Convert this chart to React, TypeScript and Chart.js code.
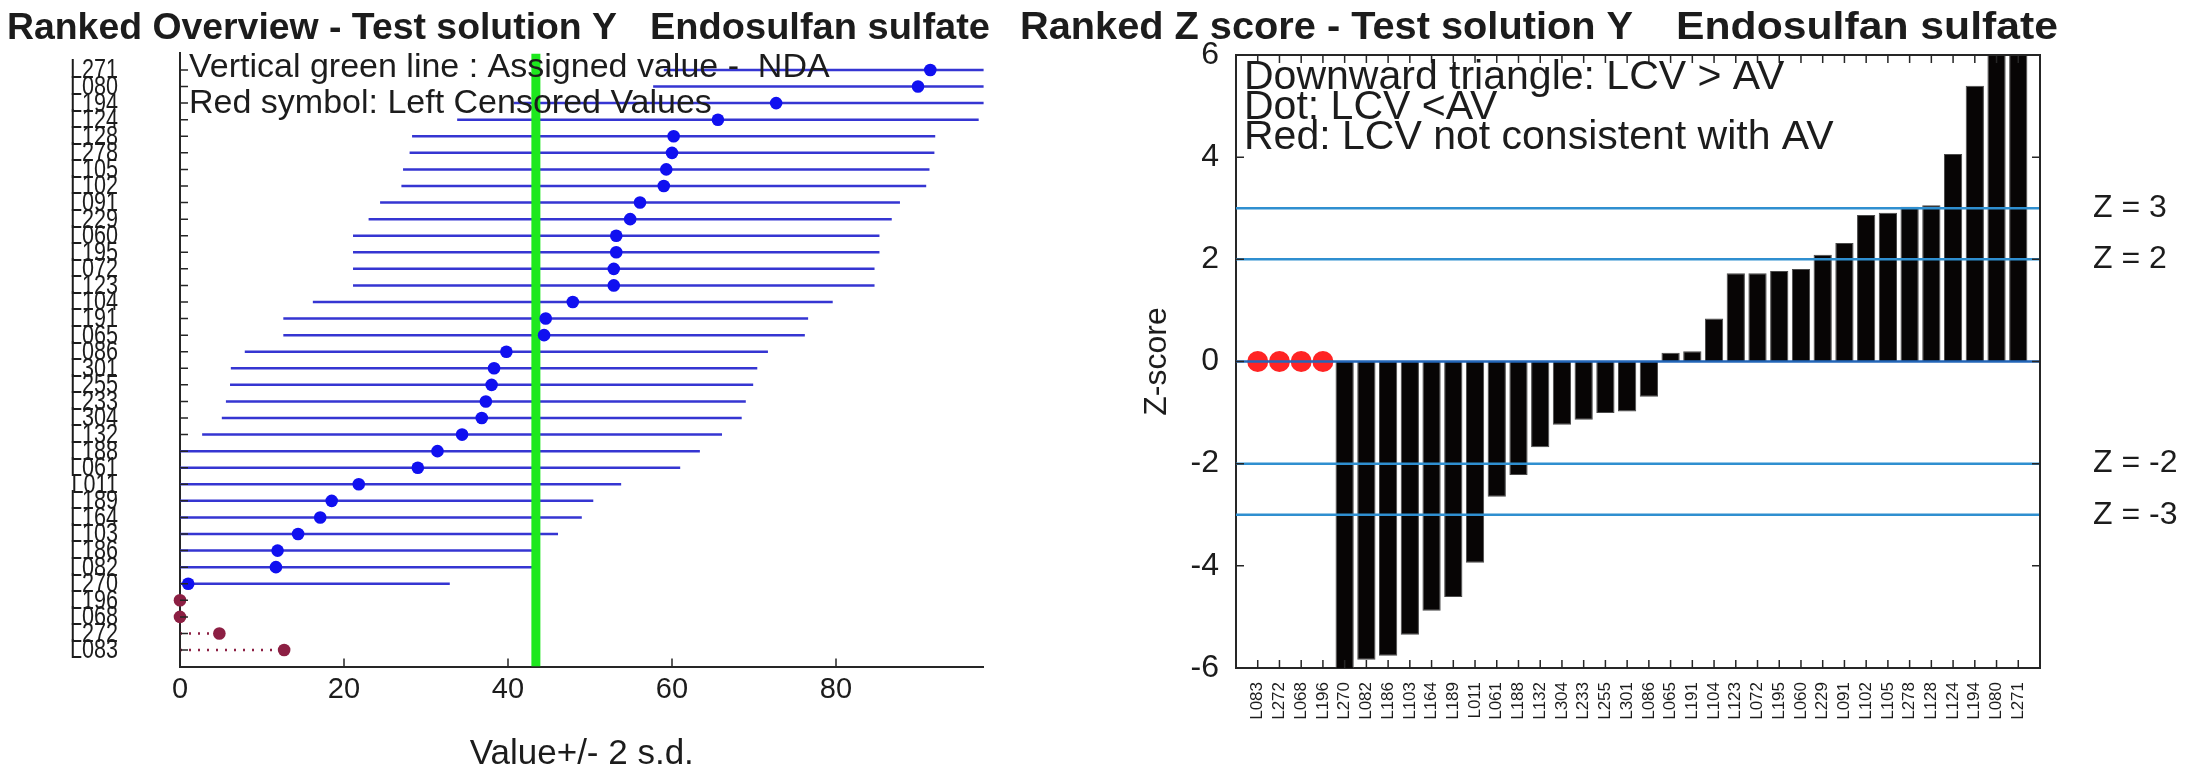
import React, { useEffect, useRef } from 'react';
import { Chart, registerables } from 'chart.js';

Chart.register(...registerables);

// ---------------- Left panel : ranked overview (top -> bottom) ----------------
const overviewLabs = [
  'L271', 'L080', 'L194', 'L124', 'L128', 'L278', 'L105', 'L102', 'L091', 'L229',
  'L060', 'L195', 'L072', 'L123', 'L104', 'L191', 'L065', 'L086', 'L301', 'L255',
  'L233', 'L304', 'L132', 'L188', 'L061', 'L011', 'L189', 'L164', 'L103', 'L186',
  'L082', 'L270', 'L196', 'L068', 'L272', 'L083',
];
const overviewValues = [
  91.5, 90.0, 72.7, 65.6, 60.2, 60.0, 59.3, 59.0, 56.1, 54.9,
  53.2, 53.2, 52.9, 52.9, 47.9, 44.6, 44.4, 39.8, 38.3, 38.0,
  37.3, 36.8, 34.4, 31.4, 29.0, 21.8, 18.5, 17.1, 14.4, 11.9,
  11.7, 1.0, 0, 0, 4.8, 12.7,
];
// 2 s.d. half width of each horizontal line (null: left censored value)
const overviewTwoSd = [
  32.5, 32.3, 32.0, 31.8, 31.9, 32.0, 32.1, 32.0, 31.7, 31.9,
  32.1, 32.1, 31.8, 31.8, 31.7, 32.0, 31.8, 31.9, 32.1, 31.9,
  31.7, 31.7, 31.7, 32.0, 32.0, 32.0, 31.9, 31.9, 31.7, 31.9,
  31.9, 31.9, null, null, null, null,
];
const overviewCensored = [
  false, false, false, false, false, false, false, false, false, false,
  false, false, false, false, false, false, false, false, false, false,
  false, false, false, false, false, false, false, false, false, false,
  false, false, true, true, true, true,
];
const assignedValue = 43.4;
const overviewXTicks = [0, 20, 40, 60, 80];
const overviewXMax = 98;

// ---------------- Right panel : ranked z scores (left -> right) ----------------
const zLabs = [
  'L083', 'L272', 'L068', 'L196', 'L270', 'L082', 'L186', 'L103', 'L164', 'L189',
  'L011', 'L061', 'L188', 'L132', 'L304', 'L233', 'L255', 'L301', 'L086', 'L065',
  'L191', 'L104', 'L123', 'L072', 'L195', 'L060', 'L229', 'L091', 'L102', 'L105',
  'L278', 'L128', 'L124', 'L194', 'L080', 'L271',
];
// null = left censored value (drawn as red dot at 0)
const zScores = [
  null, null, null, null, -7.8, -5.84, -5.76, -5.35, -4.88, -4.61,
  -3.94, -2.65, -2.22, -1.68, -1.24, -1.14, -1.01, -0.98, -0.69, 0.17,
  0.2, 0.84, 1.73, 1.73, 1.77, 1.81, 2.09, 2.32, 2.87, 2.91,
  3.03, 3.06, 4.06, 5.4, 8.6, 8.9,
];
const zLimitValues = [3, 2, 0, -2, -3];
const zLimitLabels = ['Z = 3', 'Z = 2', '', 'Z = -2', 'Z = -3'];
const zYTicks = [-6, -4, -2, 0, 2, 4, 6];

// ---------------- styling ----------------
const SANS = "'Liberation Sans', Arial, Helvetica, sans-serif";
const INK = '#1c1c1c';
const AXIS = '#262626';
const LEFT_W = 1010;
const RIGHT_W = 2207 - LEFT_W;

function drawFitText(ctx: CanvasRenderingContext2D, text: string, x: number, y: number, width: number, font: string) {
  ctx.save();
  ctx.font = font;
  ctx.fillStyle = INK;
  ctx.textAlign = 'left';
  ctx.textBaseline = 'alphabetic';
  const w = ctx.measureText(text).width;
  ctx.translate(x, y);
  ctx.scale(width / w, 1);
  ctx.fillText(text, 0, 0);
  ctx.restore();
}

function leftConfig(): any {
  const rows = overviewLabs.map((_, i) => i + 1);
  const datasets: any[] = [];
  overviewLabs.forEach((lab, i) => {
    if (overviewCensored[i]) {
      if (overviewValues[i] > 0) {
        datasets.push({
          type: 'line', label: lab + ' LCV', showLine: true, pointRadius: 0,
          data: [{ x: 0, y: rows[i] }, { x: overviewValues[i], y: rows[i] }],
          borderColor: '#8c1f43', borderWidth: 2.5, borderDash: [2, 7], order: 5,
        });
      }
      return;
    }
    const sd = overviewTwoSd[i] as number;
    datasets.push({
      type: 'line', label: lab, showLine: true, pointRadius: 0,
      data: [{ x: overviewValues[i] - sd, y: rows[i] }, { x: overviewValues[i] + sd, y: rows[i] }],
      borderColor: '#3535d2', borderWidth: 2.5, order: 5,
    });
  });
  datasets.push({
    type: 'line', label: 'Assigned value', showLine: true, pointRadius: 0,
    data: [{ x: assignedValue, y: 0 }, { x: assignedValue, y: 37 }],
    borderColor: '#1ee81e', borderWidth: 9, order: 3,
  });
  datasets.push({
    type: 'scatter', label: 'Values',
    data: overviewLabs.map((_, i) => (overviewCensored[i] ? null : { x: overviewValues[i], y: rows[i] })).filter(Boolean),
    pointRadius: 6.3, backgroundColor: '#1010f0', borderWidth: 0, order: 2,
  });
  datasets.push({
    type: 'scatter', label: 'Left censored',
    data: overviewLabs.map((_, i) => (overviewCensored[i] ? { x: overviewValues[i], y: rows[i] } : null)).filter(Boolean),
    pointRadius: 6.3, backgroundColor: '#8c1f43', borderWidth: 0, order: 1, clip: false,
  });

  const decor = {
    id: 'overviewDecor',
    afterDatasetsDraw(chart: any) {
      const { ctx, chartArea } = chart;
      ctx.save();
      ctx.font = `34px ${SANS}`;
      ctx.fillStyle = INK;
      ctx.textAlign = 'left';
      ctx.textBaseline = 'alphabetic';
      ctx.fillText('Vertical green line : Assigned value -  NDA', chartArea.left + 9, 77);
      ctx.fillText('Red symbol: Left Censored Values', chartArea.left + 9, 113);
      ctx.restore();
    },
    afterDraw(chart: any) {
      const { ctx, chartArea, scales } = chart;
      ctx.save();
      ctx.strokeStyle = AXIS;
      ctx.lineWidth = 1.5;
      ctx.beginPath();
      rows.forEach((r) => {
        const y = scales.y.getPixelForValue(r);
        ctx.moveTo(chartArea.left, y);
        ctx.lineTo(chartArea.left + 8, y);
      });
      overviewXTicks.forEach((v) => {
        const x = scales.x.getPixelForValue(v);
        ctx.moveTo(x, chartArea.bottom);
        ctx.lineTo(x, chartArea.bottom - 8);
      });
      ctx.stroke();
      // condensed lab labels of the y axis, placed by the y scale
      ctx.font = `27px ${SANS}`;
      ctx.fillStyle = INK;
      ctx.textAlign = 'right';
      ctx.textBaseline = 'middle';
      rows.forEach((r, i) => {
        ctx.save();
        ctx.translate(chartArea.left - 62, scales.y.getPixelForValue(r) + 1);
        ctx.scale(0.8, 1);
        ctx.fillText(overviewLabs[i], 0, 0);
        ctx.restore();
      });
      ctx.restore();
      drawFitText(ctx, 'Ranked Overview - Test solution Y', 7, 39, 610, `bold 37px ${SANS}`);
      drawFitText(ctx, 'Endosulfan sulfate', 650, 39, 340, `bold 37px ${SANS}`);
    },
  };

  return {
    type: 'scatter',
    data: { datasets },
    options: {
      responsive: false,
      animation: false,
      devicePixelRatio: 1,
      events: [],
      layout: { padding: { top: 53.4, right: LEFT_W - 983.6, bottom: 0, left: 0 } },
      plugins: { legend: { display: false }, tooltip: { enabled: false }, title: { display: false } },
      scales: {
        x: {
          type: 'linear', min: 0, max: overviewXMax,
          afterBuildTicks: (s: any) => { s.ticks = overviewXTicks.map((v) => ({ value: v })); },
          grid: { display: false, drawTicks: false },
          border: { display: true, color: AXIS, width: 2 },
          ticks: { font: { family: SANS, size: 29 }, color: INK, padding: 6, maxRotation: 0 },
          title: { display: true, text: 'Value+/- 2 s.d.', font: { family: SANS, size: 35 }, color: INK, padding: { top: 0, bottom: 0 } },
          afterFit: (s: any) => { s.height = 775 - 666.6; },
        },
        y: {
          type: 'linear', min: 0, max: 37, reverse: true,
          afterBuildTicks: (s: any) => { s.ticks = rows.map((v) => ({ value: v })); },
          grid: { display: false, drawTicks: false },
          border: { display: true, color: AXIS, width: 2 },
          ticks: { display: false, autoSkip: false },
          afterFit: (s: any) => { s.width = 180; },
        },
      },
    },
    plugins: [decor],
  };
}

function rightConfig(): any {
  const idx = zLabs.map((_, i) => i + 1);
  const datasets: any[] = [];
  datasets.push({
    type: 'bar', label: 'Z-score',
    data: zScores.map((z, i) => (z === null ? null : { x: idx[i], y: z })).filter(Boolean),
    backgroundColor: '#070505', borderColor: '#4a4a4a', borderWidth: 1,
    barPercentage: 1, categoryPercentage: 0.84, order: 3,
  });
  datasets.push({
    type: 'scatter', label: 'LCV',
    data: zScores.map((z, i) => (z === null ? { x: idx[i], y: 0 } : null)).filter(Boolean),
    pointRadius: 10.5, backgroundColor: '#ff2424', borderWidth: 0, order: 2, clip: false,
  });
  zLimitValues.forEach((z) => {
    datasets.push({
      type: 'line', label: 'Z=' + z, showLine: true, pointRadius: 0,
      data: [{ x: 0, y: z }, { x: 37, y: z }],
      borderColor: z === 0 ? '#2366b8' : '#2f8fd0', borderWidth: 2.5, order: 1,
    });
  });

  const decor = {
    id: 'zDecor',
    afterDraw(chart: any) {
      const { ctx, chartArea, scales } = chart;
      const { left, right, top, bottom } = chartArea;
      ctx.save();
      ctx.strokeStyle = AXIS;
      ctx.lineWidth = 2;
      ctx.beginPath();
      ctx.moveTo(left, top);
      ctx.lineTo(right, top);
      ctx.lineTo(right, bottom);
      ctx.stroke();
      ctx.lineWidth = 1.5;
      ctx.beginPath();
      idx.forEach((v) => {
        const x = scales.x.getPixelForValue(v);
        ctx.moveTo(x, bottom);
        ctx.lineTo(x, bottom - 8);
        ctx.moveTo(x, top);
        ctx.lineTo(x, top + 8);
      });
      zYTicks.forEach((v) => {
        const y = scales.y.getPixelForValue(v);
        ctx.moveTo(left, y);
        ctx.lineTo(left + 8, y);
        ctx.moveTo(right, y);
        ctx.lineTo(right - 8, y);
      });
      ctx.stroke();

      ctx.fillStyle = INK;
      ctx.textAlign = 'left';
      ctx.textBaseline = 'alphabetic';
      ctx.font = `41px ${SANS}`;
      ctx.fillText('Downward triangle: LCV > AV', left + 8, 89);
      ctx.fillText('Dot: LCV <AV', left + 8, 119);
      ctx.fillText('Red: LCV not consistent with AV', left + 8, 149);

      ctx.font = `32px ${SANS}`;
      ctx.textBaseline = 'middle';
      zLimitValues.forEach((z, i) => {
        if (!zLimitLabels[i]) return;
        ctx.fillText(zLimitLabels[i], right + 53, scales.y.getPixelForValue(z));
      });
      ctx.restore();
      drawFitText(ctx, 'Ranked Z score - Test solution Y', 1020 - LEFT_W, 39, 613, `bold 39px ${SANS}`);
      drawFitText(ctx, 'Endosulfan sulfate', 1676 - LEFT_W, 39, 382, `bold 39px ${SANS}`);
    },
  };

  return {
    type: 'bar',
    data: { datasets },
    options: {
      responsive: false,
      animation: false,
      devicePixelRatio: 1,
      events: [],
      layout: { padding: { top: 55, right: 2207 - 2040, bottom: 0, left: 0 } },
      plugins: { legend: { display: false }, tooltip: { enabled: false }, title: { display: false } },
      scales: {
        x: {
          type: 'linear', min: 0, max: 37, offset: false,
          afterBuildTicks: (s: any) => { s.ticks = idx.map((v) => ({ value: v })); },
          grid: { display: false, drawTicks: false, offset: false },
          border: { display: true, color: AXIS, width: 2 },
          ticks: {
            autoSkip: false, maxRotation: 90, minRotation: 90,
            font: { family: SANS, size: 17 }, color: INK, padding: 14,
            callback: (v: number) => zLabs[v - 1] ?? '',
          },
          afterFit: (s: any) => { s.height = 775 - 668; },
        },
        y: {
          type: 'linear', min: -6, max: 6,
          afterBuildTicks: (s: any) => { s.ticks = zYTicks.map((v) => ({ value: v })); },
          grid: { display: false, drawTicks: false },
          border: { display: true, color: AXIS, width: 2 },
          ticks: { font: { family: SANS, size: 32 }, color: INK, padding: 17 },
          title: { display: true, text: 'Z-score', font: { family: SANS, size: 32 }, color: INK, padding: { top: 128, bottom: 0 } },
          afterFit: (s: any) => { s.width = 1236 - LEFT_W; },
        },
      },
    },
    plugins: [decor],
  };
}

export default function App() {
  const leftRef = useRef<HTMLCanvasElement>(null);
  const rightRef = useRef<HTMLCanvasElement>(null);

  useEffect(() => {
    const c1 = new Chart(leftRef.current as HTMLCanvasElement, leftConfig());
    const c2 = new Chart(rightRef.current as HTMLCanvasElement, rightConfig());
    return () => {
      c1.destroy();
      c2.destroy();
    };
  }, []);

  return (
    <div style={{ position: 'fixed', left: 0, top: 0, width: 2207, height: 775, background: '#ffffff', overflow: 'hidden' }}>
      <canvas ref={leftRef} width={LEFT_W} height={775} style={{ position: 'absolute', left: 0, top: 0, width: LEFT_W, height: 775 }} />
      <canvas ref={rightRef} width={RIGHT_W} height={775} style={{ position: 'absolute', left: LEFT_W, top: 0, width: RIGHT_W, height: 775 }} />
    </div>
  );
}
